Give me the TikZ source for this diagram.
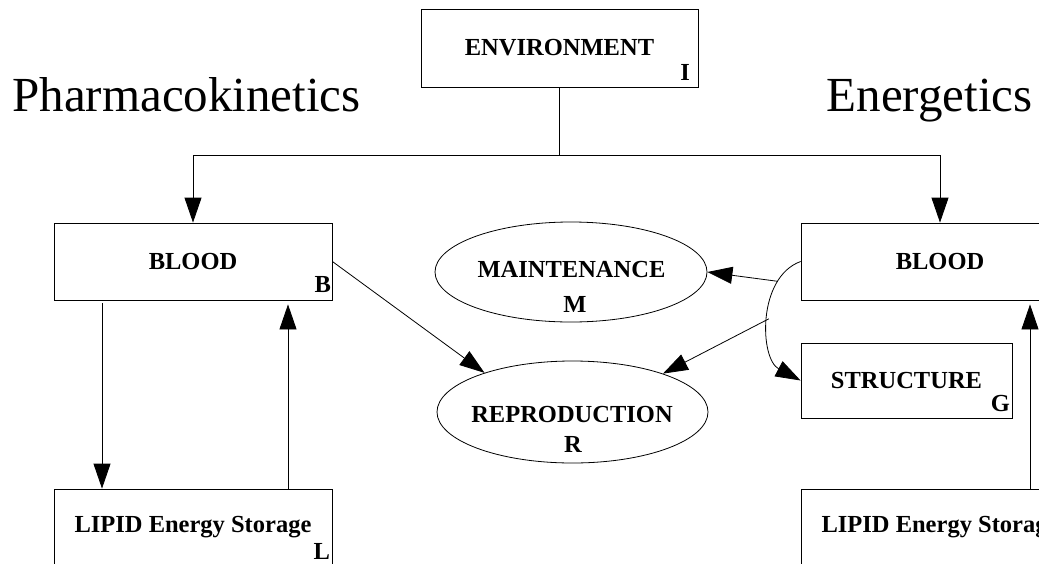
\documentclass[tikz,border=0pt]{standalone}
\usepackage{fontspec}
\setmainfont{Liberation Serif}
\usetikzlibrary{shapes.geometric, positioning, arrows.meta}
\tikzset{x=1pt, y=-1pt, % One unit is one pixel of the sketch, y runs downwards
box/.style={ % Compartments of both models
draw, minimum width=278pt, minimum height=77pt, inner sep=0pt,
font=\fontsize{24.5}{29}\selectfont\bfseries},
oval/.style={draw, ellipse, minimum width=271pt, minimum height=102pt, inner sep=0pt},
lbl/.style={font=\fontsize{24.5}{29}\selectfont\bfseries, inner sep=0pt, anchor=base},
tag/.style={lbl, anchor=base east, xshift=-2pt, yshift=7pt}, % Letter in the lower right corner
title/.style={font=\fontsize{49}{58}\selectfont, inner sep=0pt},
>={Triangle[length=25pt, width=17pt]}} % Big filled heads
\begin{document}
\begin{tikzpicture}[line width=0.8pt]
    \useasboundingbox (0,0) rectangle (1039,563);
    \clip (0,0) rectangle (1039,563);
    
    \node[box, minimum width=277pt, minimum height=78pt] (env) at (559.5,48) {ENVIRONMENT};
    \node[box] (bloodP) at (193,261.5) {BLOOD};
    \node[box, below of=bloodP, node distance=266pt] (lipidP) {LIPID Energy Storage};
    \node[box, right of=bloodP, node distance=747pt] (bloodE) {BLOOD};
    \node[box, right of=lipidP, node distance=747pt] (lipidE) {LIPID Energy Storage};
    \node[box, minimum width=211pt, minimum height=75pt] (struct) at (906.5,380.5) {STRUCTURE};
    \node[oval, minimum width=272pt, minimum height=100pt] (maint) at (571,272) {};
    \node[oval] (repro) at (572.5,412) {};
    
    \node[tag, xshift=-6pt] (envI) at (env.south east) {I};
    \node[tag, xshift=1pt, yshift=1pt] (bloodB) at (bloodP.south east) {B};
    \node[tag] (lipidL) at (lipidP.south east) {L};
    \node[tag] (structG) at (struct.south east) {G};
    \node[lbl] (maintName) at (571.5,277) {MAINTENANCE};
    \node[lbl] (maintM) at (575,312) {M};
    \node[lbl] (reproName) at (572,422) {REPRODUCTION};
    \node[lbl] (reproR) at (573,452) {R};
    
    \node[title, anchor=base west] (pharma) at (12,111) {Pharmacokinetics};
    \node[title, anchor=base east] (energ) at (1033,111) {Energetics};
    
    % exposure splits to both models
    \path (env.south) ++(0,68) coordinate (split);
    \draw (env.south) -- (split);
    \draw[->] (split) -| (bloodP.north);
    \draw[->] (split) -| (bloodE.north);
    
    \draw[->, shorten <=3pt] ([xshift=-91pt]bloodP.south) -- ([xshift=-91pt]lipidP.north);
    \draw[->, shorten >=4pt] ([xshift=95pt]lipidP.north) -- ([xshift=95pt]bloodP.south);
    \draw[->] (bloodP.east) -- (repro.156);
    
    \draw[->, shorten >=4pt] ([xshift=90pt]lipidE.north) -- ([xshift=90pt]bloodE.south);
    \draw[->] (bloodE.west) to[out=200, in=152] coordinate[pos=0.23] (toM) coordinate[pos=0.5] (toR) (struct.west);
    \draw[->] (toM) -- (maint.east);
    \draw[->] (toR) -- (repro.23);
    
\end{tikzpicture}
\end{document}
